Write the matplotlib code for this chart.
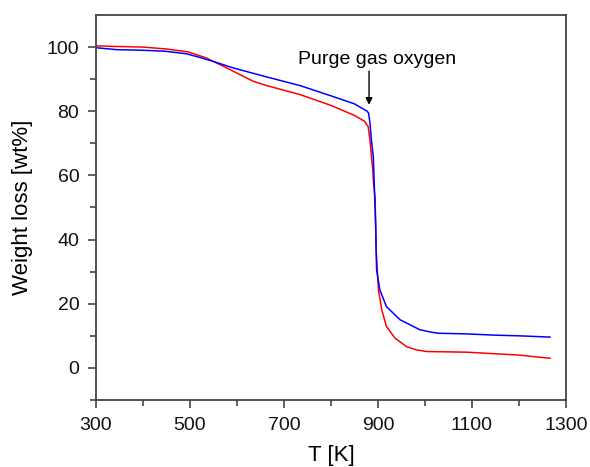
import matplotlib
matplotlib.use('Agg')
import matplotlib.pyplot as plt
from matplotlib.ticker import FixedLocator

plt.rcParams['font.family'] = ['Liberation Sans', 'DejaVu Sans']

# ── Data ─────────────────────────────────────────────────────────────────────
T_blue = [300, 344, 400, 447, 493, 520, 550, 592, 663, 734, 800, 850, 877, 880,
          883, 886, 890, 892, 895, 897, 904, 918, 947, 989, 1011, 1028, 1089,
          1150, 1200, 1266]
W_blue = [99.8, 99.2, 99.0, 98.7, 97.9, 96.8, 95.5, 93.5, 90.7, 88.0, 84.8,
          82.3, 80.0, 79.4, 76.3, 71.0, 66.0, 57.6, 45.0, 30.6, 24.3, 19.1,
          15.0, 11.9, 11.2, 10.8, 10.6, 10.2, 10.0, 9.6]

T_red = [300, 340, 400, 450, 496, 535, 585, 635, 663, 734, 800, 850, 872, 876,
         879, 883, 886, 889, 890, 894, 896, 901, 908, 918, 936, 961, 982, 1004,
         1089, 1150, 1200, 1266]
W_red = [100.4, 100.2, 100.0, 99.4, 98.5, 96.6, 93.0, 89.3, 88.0, 85.2, 81.8,
         78.7, 76.8, 75.8, 75.3, 71.0, 66.0, 61.8, 58.6, 52.4, 36.8, 24.3,
         18.1, 12.9, 9.3, 6.6, 5.6, 5.1, 4.9, 4.4, 4.0, 3.0]

x_major = [300, 500, 700, 900, 1100, 1300]
x_minor = [400, 600, 800, 1000, 1200]
y_major = [0, 20, 40, 60, 80, 100]
y_minor = [-10, 10, 30, 50, 70, 90]

ANNOT_T, ANNOT_W = 881, 82
ANNOT_TEXT = 'Purge gas oxygen'

# ── Plot ─────────────────────────────────────────────────────────────────────
fig = plt.figure(figsize=(5.9, 4.67), dpi=100)
ax = fig.add_axes([0.1627, 0.1435, 0.7966, 0.8244])

ax.plot(T_red, W_red, color='#ff0000', lw=1.1)
ax.plot(T_blue, W_blue, color='#0000ff', lw=1.1)

# arrow and label drawn separately (label sits a bit right of the arrow)
ax.annotate('', xy=(ANNOT_T, ANNOT_W), xytext=(ANNOT_T, 92.5),
            arrowprops=dict(arrowstyle='-|>', color='black', lw=1,
                            mutation_scale=10, shrinkA=0, shrinkB=0))
ax.text(ANNOT_T + 16, 93.5, ANNOT_TEXT, ha='center', va='bottom', fontsize=14)

ax.set_xlim(300, 1300)
ax.set_ylim(-10, 110)
ax.xaxis.set_major_locator(FixedLocator(x_major))
ax.xaxis.set_minor_locator(FixedLocator(x_minor))
ax.yaxis.set_major_locator(FixedLocator(y_major))
ax.yaxis.set_minor_locator(FixedLocator(y_minor))

ax.tick_params(which='both', direction='out', top=False, right=False,
               color='#444444', width=1.2, labelsize=14, labelcolor='#111111')
ax.tick_params(which='major', length=6, pad=6)
ax.tick_params(which='minor', length=4)
for s in ax.spines.values():
    s.set_color('#444444')
    s.set_linewidth(1.3)

ax.set_xlabel('T [K]', fontsize=16, labelpad=8)
ax.set_ylabel('Weight loss [wt%]', fontsize=16, labelpad=10)

plt.savefig('out.png', dpi=100)
